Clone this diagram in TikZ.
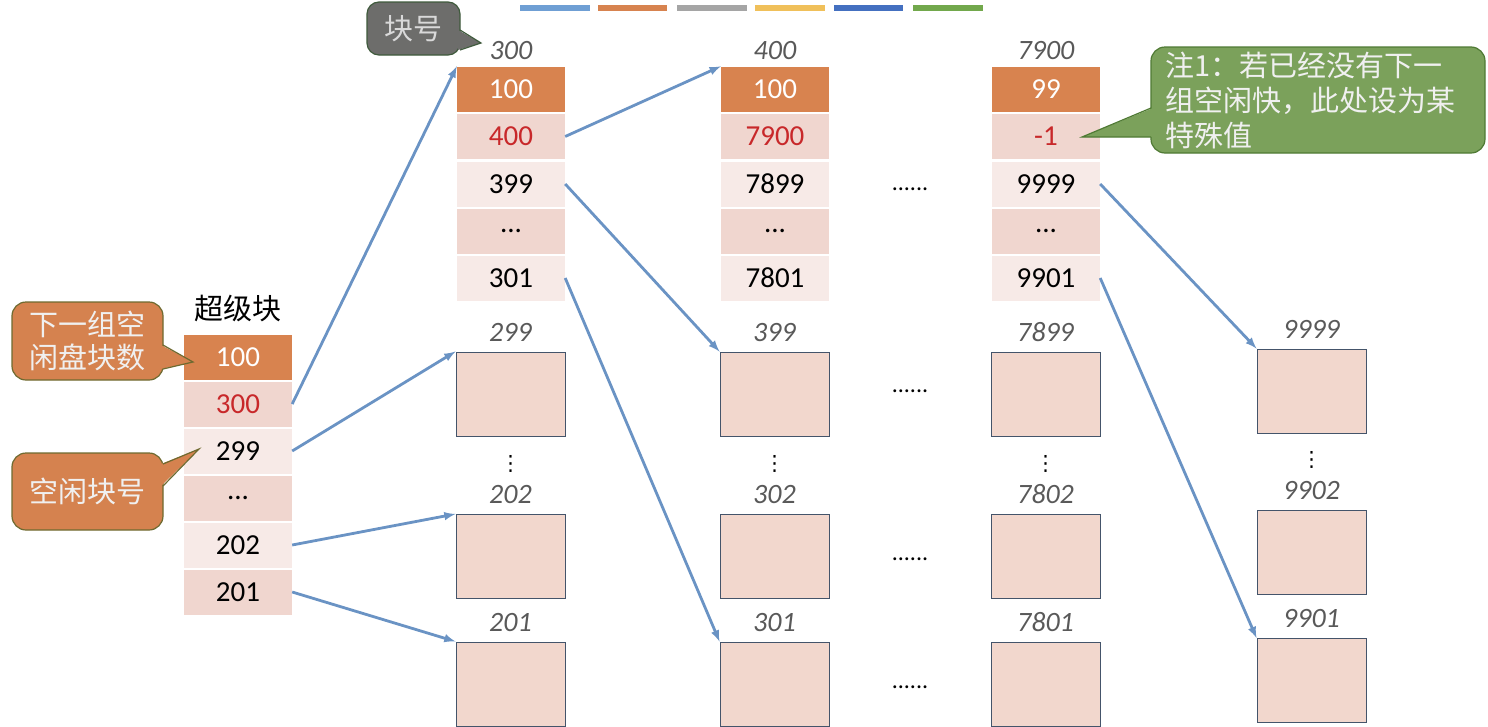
\documentclass[tikz,border=0pt]{standalone}
\usepackage{fontspec}
\setmainfont{Carlito}
\newfontfamily\cjk{Noto Sans CJK SC}
\newfontfamily\symfont{DejaVu Sans}
\usetikzlibrary{arrows,positioning}

\definecolor{cellor}{HTML}{D8834F}
\definecolor{celldk}{HTML}{F0D6CF}
\definecolor{celllt}{HTML}{F7EAE7}
\definecolor{boxfill}{HTML}{F2D7CD}
\definecolor{boxline}{HTML}{44546A}
\definecolor{arrowblue}{HTML}{6A93C4}
\definecolor{numred}{HTML}{C8282A}
\definecolor{lblgray}{HTML}{595959}
\definecolor{noteor}{HTML}{D5824F}
\definecolor{noteorline}{HTML}{6E6A30}
\definecolor{notegreen}{HTML}{7BA15B}
\definecolor{notegreenline}{HTML}{4F7A34}
\definecolor{notegray}{HTML}{6D6D6B}
\definecolor{notegrayline}{HTML}{3F5A3C}

\begin{document}
\begin{tikzpicture}[x=1pt, y=-1pt, >=latex,
  cell/.style={minimum width=108, minimum height=45, inner sep=0, font=\fontsize{29}{33}\selectfont},
  hd/.style={cell, fill=cellor, text=white},
  dk/.style={cell, fill=celldk},
  lt/.style={cell, fill=celllt},
  blk/.style={draw=boxline, line width=1, fill=boxfill, minimum width=109, minimum height=84, inner sep=0},
  lbl/.style={font=\fontsize{28}{30}\selectfont\itshape, text=lblgray, inner sep=1},
  lnk/.style={->, draw=arrowblue, line width=2.8},
  more/.style={font=\fontsize{24}{24}\selectfont, anchor=base, inner sep=0},
  vd/.style={font=\symfont\fontsize{21}{21}\selectfont, anchor=base, inner sep=0},
  note/.style={rounded corners=14, line width=1.2, inner sep=0, text=white!94!black, font=\cjk\fontsize{29}{33}\selectfont}]
\useasboundingbox (0,0) rectangle (1488,726);

% colour bar
\fill[fill={rgb,255:red,111;green,159;blue,212}] (520,5) rectangle (590,11);
\fill[fill={rgb,255:red,215;green,131;blue,79}] (598,5) rectangle (667,11);
\fill[fill={rgb,255:red,165;green,165;blue,165}] (677,5) rectangle (747,11);
\fill[fill={rgb,255:red,240;green,192;blue,90}] (755,5) rectangle (825,11);
\fill[fill={rgb,255:red,68;green,112;blue,192}] (834,5) rectangle (903,11);
\fill[fill={rgb,255:red,114;green,168;blue,76}] (913,5) rectangle (983,11);

% super block
\node[font=\cjk\fontsize{29}{33}\selectfont] (sbt) at (238,308) {超级块};
\node[hd] (s1) at (238,357) {100};
\node[dk, text=numred] (s2) at (238,404) {300};
\node[lt] (s3) at (238,451) {299};
\node[dk] (s4) at (238,498) {...};
\node[lt] (s5) at (238,545) {202};
\node[dk] (s6) at (238,592) {201};

% block 300
\node[hd] (a1) at (511,89) {100};
\node[dk, text=numred] (a2) at (511,136.5) {400};
\node[lt] (a3) at (511,184) {399};
\node[dk] (a4) at (511,231) {...};
\node[lt] (a5) at (511,278) {301};
\node[lbl, above=5pt of a1] (a0) {300};

% block 400
\node[hd] (b1) at (775,89) {100};
\node[dk, text=numred] (b2) at (775,136.5) {7900};
\node[lt] (b3) at (775,184) {7899};
\node[dk] (b4) at (775,231) {...};
\node[lt] (b5) at (775,278) {7801};
\node[lbl, above=5pt of b1] (b0) {400};

% block 7900
\node[hd] (c1) at (1046,89) {99};
\node[dk, text=numred] (c2) at (1046,136.5) {-1};
\node[lt] (c3) at (1046,184) {9999};
\node[dk] (c4) at (1046,231) {...};
\node[lt] (c5) at (1046,278) {9901};
\node[lbl, above=5pt of c1] (c0) {7900};

% free blocks
\node[blk] (f299) at (510.5,394) {};
\node[blk] (f202) at (510.5,556.5) {};
\node[blk] (f201) at (510.5,684) {};
\node[blk] (f399) at (774.5,394) {};
\node[blk] (f302) at (774.5,556.5) {};
\node[blk] (f301) at (774.5,684) {};
\node[blk] (f7899) at (1045.5,394) {};
\node[blk] (f7802) at (1045.5,556.5) {};
\node[blk] (f7801) at (1045.5,684) {};
\node[blk] (f9999) at (1311.5,391) {};
\node[blk] (f9902) at (1311.5,552.5) {};
\node[blk] (f9901) at (1311.5,680.5) {};

\node[lbl, above=9pt of f299] {299};
\node[lbl, above=9pt of f202] {202};
\node[lbl, above=9pt of f201] {201};
\node[lbl, above=9pt of f399] {399};
\node[lbl, above=9pt of f302] {302};
\node[lbl, above=9pt of f301] {301};
\node[lbl, above=9pt of f7899] {7899};
\node[lbl, above=9pt of f7802] {7802};
\node[lbl, above=9pt of f7801] {7801};
\node[lbl, above=9pt of f9999] {9999};
\node[lbl, above=9pt of f9902] {9902};
\node[lbl, above=9pt of f9901] {9901};

\node[vd] (v1) at (510.5,470) {⋮};
\node[vd] (v2) at (774.5,470) {⋮};
\node[vd] (v3) at (1045.5,470) {⋮};
\node[vd] (v4) at (1311.5,466) {⋮};

\node[more] (m1) at (910,190) {......};
\node[more] (m2) at (910,392) {......};
\node[more] (m3) at (910,560) {......};
\node[more] (m4) at (910,688) {......};

% links
\draw[lnk] (s2.east) -- (a1.north west);
\draw[lnk] (s3.east) -- (f299.north west);
\draw[lnk] (s5.east) -- (f202.north west);
\draw[lnk] (s6.east) -- (f201.north west);
\draw[lnk] (a2.east) -- (b1.north west);
\draw[lnk] (a3.east) -- (f399.north west);
\draw[lnk] (a5.east) -- (f301.north west);
\draw[lnk] (c3.east) -- (f9999.north west);
\draw[lnk] (c5.east) -- (f9901.north west);

% notes
\node[note, fill=noteor, draw=noteorline, align=center, minimum width=151, minimum height=78] (n1) at (87.5,341) {下一组空\\闲盘块数};
\fill[noteor] (161,345) -- (193,362) -- (161,369) -- cycle;
\draw[noteorline, line width=1.2] (163,345) -- (193,362) -- (163,369);

\node[note, fill=noteor, draw=noteorline, minimum width=151, minimum height=77] (n2) at (87.5,491.5) {空闲块号};
\fill[noteor] (161,464) -- (199,449) -- (161,486) -- cycle;
\draw[noteorline, line width=1.2] (163,464) -- (199,449) -- (163,486);

\node[note, fill=notegray, draw=notegrayline, rounded corners=12, text=white!85!black, minimum width=93, minimum height=53] (n3) at (413.5,28.5) {块号};
\fill[notegray] (458,30) -- (481,43) -- (458,50) -- cycle;
\draw[notegrayline, line width=1.2] (460,30) -- (481,43) -- (460,50);

\node[note, fill=notegreen, draw=notegreenline, align=left, text width=305, minimum width=334, minimum height=106, font=\cjk\fontsize{29}{35}\selectfont] (n4) at (1318,100) {注1：若已经没有下一\\组空闲快，此处设为某\\特殊值};
\fill[notegreen] (1153,108) -- (1082,137) -- (1153,137) -- cycle;
\draw[notegreenline, line width=1.2] (1151,108) -- (1082,137) -- (1151,137);
\end{tikzpicture}
\end{document}
